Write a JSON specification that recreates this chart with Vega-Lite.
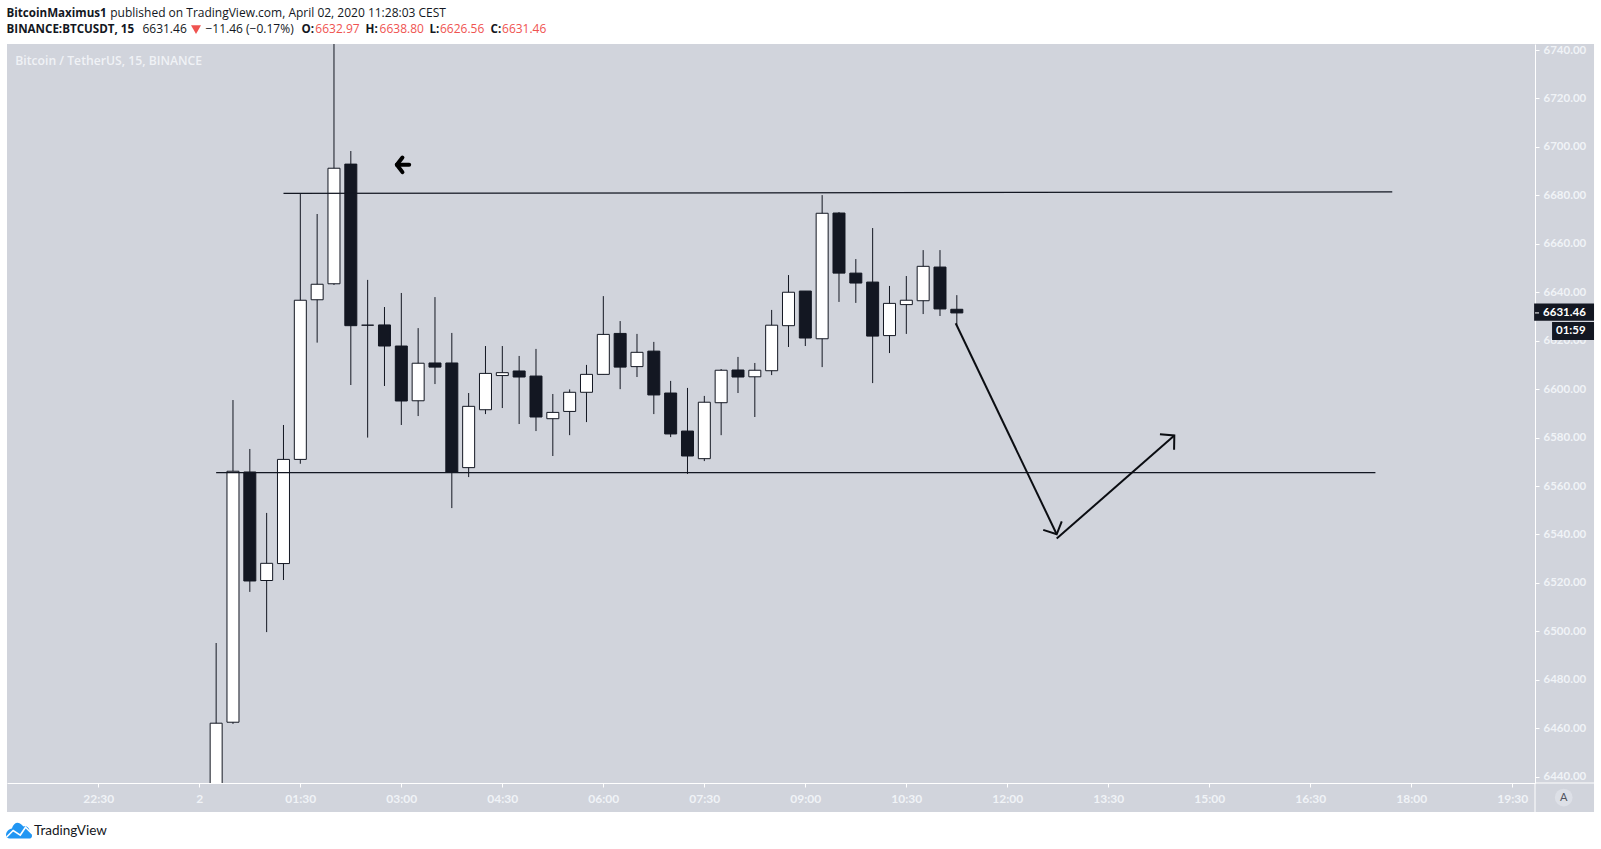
{
  "$schema": "https://vega.github.io/schema/vega-lite/v6.json",
  "width": 1528,
  "height": 739,
  "autosize": {"type": "none"},
  "padding": {"left": 7, "top": 44, "right": 66, "bottom": 66},
  "background": "#d1d4dc",
  "view": {"stroke": null},
  "config": {"font": "Lato"},
  "datasets": {
    "candles": [
      {"t": "2020-04-02T00:15:00Z", "open": 6425, "high": 6495.2, "low": 6420, "close": 6462.1},
      {"t": "2020-04-02T00:30:00Z", "open": 6462.5, "high": 6595.5, "low": 6461.8, "close": 6566.1},
      {"t": "2020-04-02T00:45:00Z", "open": 6565.8, "high": 6575.3, "low": 6516.3, "close": 6520.8},
      {"t": "2020-04-02T01:00:00Z", "open": 6521, "high": 6548.9, "low": 6499.7, "close": 6528.1},
      {"t": "2020-04-02T01:15:00Z", "open": 6528, "high": 6585.2, "low": 6521.2, "close": 6571},
      {"t": "2020-04-02T01:30:00Z", "open": 6571, "high": 6680.8, "low": 6569.2, "close": 6636.7},
      {"t": "2020-04-02T01:45:00Z", "open": 6636.9, "high": 6672.3, "low": 6619.2, "close": 6643.3},
      {"t": "2020-04-02T02:00:00Z", "open": 6643.5, "high": 6760, "low": 6643, "close": 6691.2},
      {"t": "2020-04-02T02:15:00Z", "open": 6692.9, "high": 6698.3, "low": 6601.7, "close": 6626.2},
      {"t": "2020-04-02T02:30:00Z", "open": 6626.4, "high": 6645.1, "low": 6580, "close": 6626.4},
      {"t": "2020-04-02T02:45:00Z", "open": 6626.5, "high": 6633.9, "low": 6601.3, "close": 6617.8},
      {"t": "2020-04-02T03:00:00Z", "open": 6617.8, "high": 6639.7, "low": 6585.2, "close": 6595.1},
      {"t": "2020-04-02T03:15:00Z", "open": 6595.2, "high": 6625.2, "low": 6588.9, "close": 6610.7},
      {"t": "2020-04-02T03:30:00Z", "open": 6610.8, "high": 6638, "low": 6602.1, "close": 6609.1},
      {"t": "2020-04-02T03:45:00Z", "open": 6610.8, "high": 6623.2, "low": 6550.9, "close": 6565.8},
      {"t": "2020-04-02T04:00:00Z", "open": 6567.6, "high": 6598.4, "low": 6563.7, "close": 6592.9},
      {"t": "2020-04-02T04:15:00Z", "open": 6591.5, "high": 6617.8, "low": 6589.7, "close": 6606.5},
      {"t": "2020-04-02T04:30:00Z", "open": 6605.6, "high": 6617.8, "low": 6592.2, "close": 6606.8},
      {"t": "2020-04-02T04:45:00Z", "open": 6607.5, "high": 6613.7, "low": 6585.6, "close": 6605},
      {"t": "2020-04-02T05:00:00Z", "open": 6605.4, "high": 6616.6, "low": 6582.7, "close": 6588.5},
      {"t": "2020-04-02T05:15:00Z", "open": 6587.8, "high": 6598, "low": 6572.4, "close": 6590.4},
      {"t": "2020-04-02T05:30:00Z", "open": 6590.8, "high": 6599.9, "low": 6581, "close": 6598.7},
      {"t": "2020-04-02T05:45:00Z", "open": 6598.7, "high": 6610, "low": 6586.4, "close": 6606.1},
      {"t": "2020-04-02T06:00:00Z", "open": 6606.1, "high": 6638.4, "low": 6606.1, "close": 6622.6},
      {"t": "2020-04-02T06:15:00Z", "open": 6623, "high": 6628.1, "low": 6600, "close": 6609.1},
      {"t": "2020-04-02T06:30:00Z", "open": 6609.3, "high": 6622.8, "low": 6605, "close": 6615.2},
      {"t": "2020-04-02T06:45:00Z", "open": 6615.7, "high": 6619.5, "low": 6589.7, "close": 6597.6},
      {"t": "2020-04-02T07:00:00Z", "open": 6598.4, "high": 6603.4, "low": 6580.2, "close": 6581.5},
      {"t": "2020-04-02T07:15:00Z", "open": 6582.7, "high": 6600.5, "low": 6565, "close": 6572.4},
      {"t": "2020-04-02T07:30:00Z", "open": 6571.3, "high": 6597.2, "low": 6570.3, "close": 6594.6},
      {"t": "2020-04-02T07:45:00Z", "open": 6594.4, "high": 6608.3, "low": 6581, "close": 6607.8},
      {"t": "2020-04-02T08:00:00Z", "open": 6607.9, "high": 6613.3, "low": 6598.4, "close": 6605},
      {"t": "2020-04-02T08:15:00Z", "open": 6605.1, "high": 6610.8, "low": 6588.5, "close": 6607.8},
      {"t": "2020-04-02T08:30:00Z", "open": 6607.6, "high": 6632.7, "low": 6605.8, "close": 6626.4},
      {"t": "2020-04-02T08:45:00Z", "open": 6626.2, "high": 6647.1, "low": 6617.4, "close": 6640},
      {"t": "2020-04-02T09:00:00Z", "open": 6640.5, "high": 6640.5, "low": 6617.8, "close": 6621.1},
      {"t": "2020-04-02T09:15:00Z", "open": 6620.8, "high": 6680.1, "low": 6609.1, "close": 6672.6},
      {"t": "2020-04-02T09:30:00Z", "open": 6672.7, "high": 6673.1, "low": 6636, "close": 6647.9},
      {"t": "2020-04-02T09:45:00Z", "open": 6647.9, "high": 6653.7, "low": 6635.6, "close": 6643.8},
      {"t": "2020-04-02T10:00:00Z", "open": 6644.2, "high": 6666.5, "low": 6602.5, "close": 6621.9},
      {"t": "2020-04-02T10:15:00Z", "open": 6622.1, "high": 6642.6, "low": 6614.9, "close": 6635.4},
      {"t": "2020-04-02T10:30:00Z", "open": 6634.9, "high": 6646.7, "low": 6622.8, "close": 6636.7},
      {"t": "2020-04-02T10:45:00Z", "open": 6636.5, "high": 6657.4, "low": 6631, "close": 6650.7},
      {"t": "2020-04-02T11:00:00Z", "open": 6650.4, "high": 6657.4, "low": 6630.2, "close": 6633.1},
      {"t": "2020-04-02T11:15:00Z", "open": 6632.97, "high": 6638.8, "low": 6626.56, "close": 6631.46}
    ],
    "levels": [
      {"id": "resistance", "seq": 1, "t": "2020-04-02T01:15:00Z", "p": 6680.8},
      {"id": "resistance", "seq": 2, "t": "2020-04-02T17:43:00Z", "p": 6681.4},
      {"id": "support", "seq": 1, "t": "2020-04-02T00:15:00Z", "p": 6565.5},
      {"id": "support", "seq": 2, "t": "2020-04-02T17:28:00Z", "p": 6565.5}
    ],
    "arrows": [
      {"id": "down", "seq": 1, "t": "2020-04-02T11:14:00Z", "p": 6627.2},
      {"id": "down", "seq": 2, "t": "2020-04-02T12:44:00Z", "p": 6540.1},
      {"id": "downhead", "seq": 1, "t": "2020-04-02T12:32:00Z", "p": 6541.9},
      {"id": "downhead", "seq": 2, "t": "2020-04-02T12:44:00Z", "p": 6540.1},
      {"id": "downhead", "seq": 3, "t": "2020-04-02T12:48:30Z", "p": 6545.4},
      {"id": "up", "seq": 1, "t": "2020-04-02T12:44:00Z", "p": 6538.3},
      {"id": "up", "seq": 2, "t": "2020-04-02T14:28:48Z", "p": 6580.9},
      {"id": "uphead", "seq": 1, "t": "2020-04-02T14:16:00Z", "p": 6581.4},
      {"id": "uphead", "seq": 2, "t": "2020-04-02T14:28:48Z", "p": 6580.9},
      {"id": "uphead", "seq": 3, "t": "2020-04-02T14:28:36Z", "p": 6575}
    ],
    "icon": [
      {"id": "shaft", "seq": 1, "t": "2020-04-02T03:07:00Z", "p": 6692.65},
      {"id": "shaft", "seq": 2, "t": "2020-04-02T02:56:00Z", "p": 6692.65},
      {"id": "head", "seq": 1, "t": "2020-04-02T03:01:00Z", "p": 6695.6},
      {"id": "head", "seq": 2, "t": "2020-04-02T02:56:00Z", "p": 6692.65},
      {"id": "head", "seq": 3, "t": "2020-04-02T03:01:00Z", "p": 6689.6}
    ],
    "margins": [
      {"t": "2020-04-01T21:00:00Z", "t2": "2020-04-02T20:50:00Z", "p": 6765, "p2": 6742.48},
      {"t": "2020-04-01T21:00:00Z", "t2": "2020-04-02T20:50:00Z", "p": 6425.43, "p2": 6405},
      {"t": "2020-04-01T21:00:00Z", "t2": "2020-04-01T21:08:38Z", "p": 6765, "p2": 6405},
      {"t": "2020-04-02T20:42:48Z", "t2": "2020-04-02T20:50:00Z", "p": 6765, "p2": 6405}
    ],
    "frame": [
      {"id": "xend", "seq": 1, "t": "2020-04-02T19:50:12Z", "p": 6437.41},
      {"id": "xend", "seq": 2, "t": "2020-04-02T20:42:48Z", "p": 6437.41},
      {"id": "yend", "seq": 1, "t": "2020-04-02T19:50:12Z", "p": 6437.41},
      {"id": "yend", "seq": 2, "t": "2020-04-02T19:50:12Z", "p": 6425.43}
    ],
    "boxes": [
      {"t": "2020-04-02T19:49:24Z", "t2": "2020-04-02T20:42:48Z", "p": 6635.4, "p2": 6628.25},
      {"t": "2020-04-02T20:05:24Z", "t2": "2020-04-02T20:42:48Z", "p": 6627.7, "p2": 6620.3}
    ],
    "pricetick": [
      {"seq": 1, "t": "2020-04-02T19:50:12Z", "p": 6631.46},
      {"seq": 2, "t": "2020-04-02T19:53:48Z", "p": 6631.46}
    ],
    "headbold": [
      {"t": "2020-04-01T21:08:12Z", "p": 6753.6, "label": "BitcoinMaximus1"},
      {"t": "2020-04-01T21:08:12Z", "p": 6747, "label": "BINANCE:BTCUSDT, 15"},
      {"t": "2020-04-02T01:31:10Z", "p": 6747, "label": "O:"},
      {"t": "2020-04-02T02:28:06Z", "p": 6747, "label": "H:"},
      {"t": "2020-04-02T03:25:03Z", "p": 6747, "label": "L:"},
      {"t": "2020-04-02T04:19:34Z", "p": 6747, "label": "C:"}
    ],
    "headplain": [
      {"t": "2020-04-01T22:40:36Z", "p": 6753.6, "label": "published on TradingView.com, April 02, 2020 11:28:03 CEST"},
      {"t": "2020-04-01T23:09:18Z", "p": 6747, "label": "6631.46"},
      {"t": "2020-04-02T00:05:31Z", "p": 6747, "label": "−11.46 (−0.17%)"}
    ],
    "headred": [
      {"t": "2020-04-02T01:43:22Z", "p": 6747, "label": "6632.97"},
      {"t": "2020-04-02T02:40:40Z", "p": 6747, "label": "6638.80"},
      {"t": "2020-04-02T03:34:28Z", "p": 6747, "label": "6626.56"},
      {"t": "2020-04-02T04:29:44Z", "p": 6747, "label": "6631.46"}
    ]
  },
  "data": {"name": "levels"},
  "encoding": {
    "x": {
      "field": "t",
      "type": "temporal",
      "title": null,
      "scale": {"type": "utc", "domain": ["2020-04-01T21:08:38Z", "2020-04-02T19:50:12Z"], "nice": false, "padding": 0},
      "axis": {
        "orient": "bottom",
        "grid": false,
        "domainColor": "#ffffff",
        "tickColor": "#ffffff",
        "tickSize": 4,
        "labelColor": "#f0f3f7",
        "labelFont": "Lato",
        "labelFontSize": 12,
        "labelFontWeight": "bold",
        "labelPadding": 6,
        "labelOverlap": false,
        "labelFlush": false,
        "values": [
          "2020-04-01T22:30:00Z", "2020-04-02T00:00:00Z", "2020-04-02T01:30:00Z", "2020-04-02T03:00:00Z",
          "2020-04-02T04:30:00Z", "2020-04-02T06:00:00Z", "2020-04-02T07:30:00Z", "2020-04-02T09:00:00Z",
          "2020-04-02T10:30:00Z", "2020-04-02T12:00:00Z", "2020-04-02T13:30:00Z", "2020-04-02T15:00:00Z",
          "2020-04-02T16:30:00Z", "2020-04-02T18:00:00Z", "2020-04-02T19:30:00Z"
        ],
        "labelExpr": "utcFormat(datum.value, '%H:%M') == '00:00' ? '2' : utcFormat(datum.value, '%H:%M')"
      }
    },
    "y": {
      "field": "p",
      "type": "quantitative",
      "title": null,
      "scale": {"domain": [6437.41, 6742.48], "zero": false, "nice": false},
      "axis": {
        "orient": "right",
        "grid": false,
        "domainColor": "#ffffff",
        "tickColor": "#ffffff",
        "tickSize": 4,
        "labelColor": "#f0f3f7",
        "labelFont": "Lato",
        "labelFontSize": 11.5,
        "labelFontWeight": "bold",
        "labelPadding": 4,
        "labelOverlap": false,
        "labelFlush": false,
        "labelBound": false,
        "format": ".2f",
        "values": [6440, 6460, 6480, 6500, 6520, 6540, 6560, 6580, 6600, 6620, 6640, 6660, 6680, 6700, 6720, 6740]
      }
    }
  },
  "layer": [
    {
      "data": {"name": "candles"},
      "mark": {"type": "rule", "clip": true, "stroke": "#131722", "strokeWidth": 1},
      "encoding": {
        "y": {"field": "low", "type": "quantitative", "title": null, "scale": {"domain": [6437.41, 6742.48], "zero": false, "nice": false}},
        "y2": {"field": "high"}
      }
    },
    {
      "data": {"name": "candles"},
      "mark": {"type": "bar", "clip": true, "size": 12, "stroke": "#131722", "strokeWidth": 1, "orient": "vertical"},
      "encoding": {
        "y": {"field": "open", "type": "quantitative", "title": null, "scale": {"domain": [6437.41, 6742.48], "zero": false, "nice": false}},
        "y2": {"field": "close"},
        "fill": {"condition": {"test": "datum.close >= datum.open", "value": "#ffffff"}, "value": "#131722"}
      }
    },
    {
      "mark": {"type": "line", "stroke": "#131722", "strokeWidth": 1.2},
      "encoding": {"detail": {"field": "id"}, "order": {"field": "seq"}}
    },
    {
      "data": {"name": "arrows"},
      "mark": {"type": "line", "stroke": "#0b0d12", "strokeWidth": 2},
      "encoding": {"detail": {"field": "id"}, "order": {"field": "seq"}}
    },
    {
      "data": {"name": "icon"},
      "mark": {"type": "line", "stroke": "#000000", "strokeWidth": 4, "strokeCap": "round", "strokeJoin": "round"},
      "encoding": {"detail": {"field": "id"}, "order": {"field": "seq"}}
    },
    {
      "data": {"name": "margins"},
      "mark": {"type": "rect", "fill": "#ffffff", "clip": false},
      "encoding": {
        "x2": {"field": "t2"},
        "y2": {"field": "p2"}
      }
    },
    {
      "data": {"name": "frame"},
      "mark": {"type": "line", "stroke": "#ffffff", "strokeWidth": 1},
      "encoding": {"detail": {"field": "id"}, "order": {"field": "seq"}}
    },
    {
      "data": {"name": "boxes"},
      "mark": {"type": "rect", "fill": "#131722", "clip": false},
      "encoding": {
        "x2": {"field": "t2"},
        "y2": {"field": "p2"}
      }
    },
    {
      "data": {"name": "pricetick"},
      "mark": {"type": "line", "stroke": "#ffffff", "strokeWidth": 1},
      "encoding": {"order": {"field": "seq"}}
    },
    {
      "data": {"values": [
        {"t": "2020-04-02T19:57:24Z", "p": 6631.6, "label": "6631.46"},
        {"t": "2020-04-02T20:08:54Z", "p": 6624, "label": "01:59"}
      ]},
      "mark": {"type": "text", "align": "left", "baseline": "middle", "fontSize": 11.5, "fontWeight": "bold", "fill": "#ffffff"},
      "encoding": {"text": {"field": "label"}}
    },
    {
      "data": {"name": "headbold"},
      "mark": {"type": "text", "align": "left", "baseline": "alphabetic", "font": "Open Sans", "fontSize": 11.6, "fontWeight": "bold", "fill": "#131722"},
      "encoding": {"text": {"field": "label"}}
    },
    {
      "data": {"name": "headplain"},
      "mark": {"type": "text", "align": "left", "baseline": "alphabetic", "font": "Open Sans", "fontSize": 12, "fill": "#131722"},
      "encoding": {"text": {"field": "label"}}
    },
    {
      "data": {"name": "headred"},
      "mark": {"type": "text", "align": "left", "baseline": "alphabetic", "font": "Open Sans", "fontSize": 12, "fill": "#ef5350"},
      "encoding": {"text": {"field": "label"}}
    },
    {
      "data": {"values": [{"t": "2020-04-01T23:57:04Z", "p": 6748.4}]},
      "mark": {"type": "point", "shape": "triangle-down", "filled": true, "fill": "#ef5350", "opacity": 1, "size": 100}
    },
    {
      "data": {"values": [{"t": "2020-04-01T21:16:00Z", "p": 6733.8, "label": "Bitcoin / TetherUS, 15, BINANCE"}]},
      "mark": {"type": "text", "align": "left", "baseline": "alphabetic", "font": "Open Sans", "fontSize": 12.2, "fontWeight": 600, "fill": "#f0f2f6"},
      "encoding": {"text": {"field": "label"}}
    },
    {
      "data": {"values": [{"t": "2020-04-01T21:32:42Z", "p": 6415.95, "label": "TradingView"}]},
      "mark": {"type": "text", "align": "left", "baseline": "alphabetic", "fontSize": 13.5, "fill": "#131722"},
      "encoding": {"text": {"field": "label"}}
    },
    {
      "data": {"values": [{"t": "2020-04-01T21:19:20Z", "p": 6417.8}]},
      "mark": {
        "type": "point",
        "filled": true,
        "fill": "#2196f3",
        "opacity": 1,
        "size": 676,
        "shape": "M-1 .35C-1 .05-.75-.1-.55-.15C-.45-.45-.3-.6-.1-.6C.1-.6.25-.4.35-.3C.6-.4.85-.15.8.1C.95.15 1 .3 1 .42C1 .55.9.62.75.62L-.7.62C-.9.62-1 .5-1 .35Z"
      }
    },
    {
      "data": {"values": [{"t": "2020-04-01T21:19:20Z", "p": 6417.8}]},
      "mark": {
        "type": "point",
        "filled": false,
        "stroke": "#ffffff",
        "strokeWidth": 1.6,
        "opacity": 1,
        "size": 676,
        "shape": "M-.95.5L-.45 0L.1.35L.5-.25L1 .25"
      }
    },
    {
      "data": {"values": [{"t": "2020-04-02T20:15:48Z", "p": 6431.4}]},
      "mark": {"type": "circle", "fill": "#dde0e7", "opacity": 1, "size": 314}
    },
    {
      "data": {"values": [{"t": "2020-04-02T20:15:48Z", "p": 6431.4, "label": "A"}]},
      "mark": {"type": "text", "align": "center", "baseline": "middle", "fontSize": 11, "fill": "#50535e"},
      "encoding": {"text": {"field": "label"}}
    }
  ]
}
